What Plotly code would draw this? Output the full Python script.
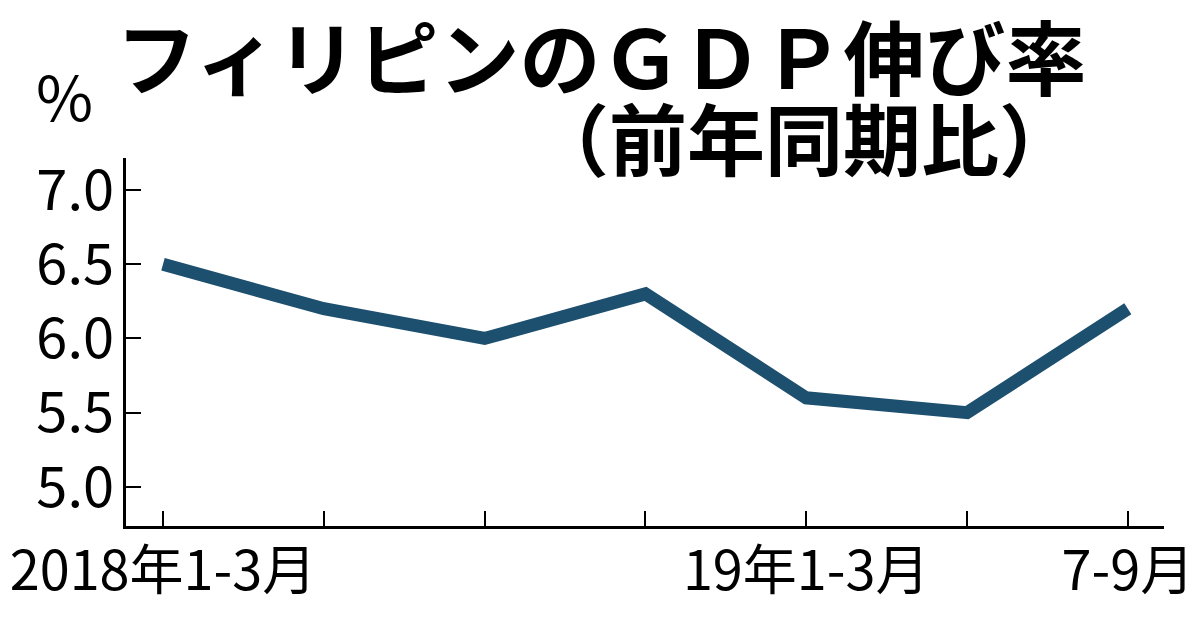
import plotly.graph_objects as go

quarters = ["2018年1-3月", "4-6月", "7-9月", "10-12月", "19年1-3月", "4-6月 ", "7-9月 "]
growth = [6.5, 6.2, 6.0, 6.3, 5.6, 5.5, 6.2]
tick_labels = ["2018年1-3月", "", "", "", "19年1-3月", "", "7-9月"]
y_ticks = [5.0, 5.5, 6.0, 6.5, 7.0]
y_tick_text = ["5.0", "5.5", "6.0", "6.5", "7.0"]

num_font = "Noto Sans CJK JP, sans-serif"
jp_font = "Noto Sans CJK JP, sans-serif"

# positions below are in screen pixels (page shows the figure with an ~8px offset)
OFF = 8
L, R, T, B = 126 - OFF, 1164 - OFF, 158 - OFF, 526 - OFF
PW, PH = R - L, B - T


def px(x):
    return (x - OFF - L) / PW


def py(y):
    return (B - (y - OFF)) / PH


x_idx = list(range(len(quarters)))

fig = go.Figure()
fig.add_trace(go.Scatter(
    x=x_idx, y=growth, mode="lines",
    line=dict(color="#1d4f6e", width=13),
    hoverinfo="skip", showlegend=False,
))

fig.update_layout(
    width=1200, height=628,
    paper_bgcolor="white", plot_bgcolor="white",
    margin=dict(l=L, r=1200 - R, t=T, b=628 - B),
    xaxis=dict(
        range=[-0.23, 6.225], automargin=False,
        tickvals=x_idx, ticktext=tick_labels,
        ticks="inside", ticklen=15, tickwidth=2, tickcolor="black",
        showline=True, linecolor="black", linewidth=2.5,
        showgrid=False, zeroline=False,
        tickfont=dict(family=num_font, size=54, color="black"),
        ticklabeloverflow="allow",
        ticklabelstandoff=-4,
    ),
    yaxis=dict(
        range=[4.737, 7.215], automargin=False,
        tickvals=y_ticks, ticktext=y_tick_text,
        ticks="inside", ticklen=15, tickwidth=2, tickcolor="black",
        showline=True, linecolor="black", linewidth=2.5,
        showgrid=False, zeroline=False,
        tickfont=dict(family=num_font, size=56, color="black"),
        ticklabeloverflow="allow",
        ticklabelstandoff=-2,
    ),
    annotations=[
        dict(text="フィリピンのＧＤＰ伸び率", xref="paper", yref="paper",
             x=px(114), y=py(53), xanchor="left", yanchor="middle",
             showarrow=False, font=dict(family=jp_font, size=81, color="black", weight="bold")),
        dict(text="（前年同期比）", xref="paper", yref="paper",
             x=px(1079), y=py(136), xanchor="right", yanchor="middle",
             showarrow=False, font=dict(family=jp_font, size=78, color="black", weight="bold")),
        dict(text="%", xref="paper", yref="paper",
             x=px(64), y=py(94), xanchor="center", yanchor="middle",
             showarrow=False, font=dict(family=num_font, size=62, color="black")),
    ],
)

fig.write_html("out.html")
